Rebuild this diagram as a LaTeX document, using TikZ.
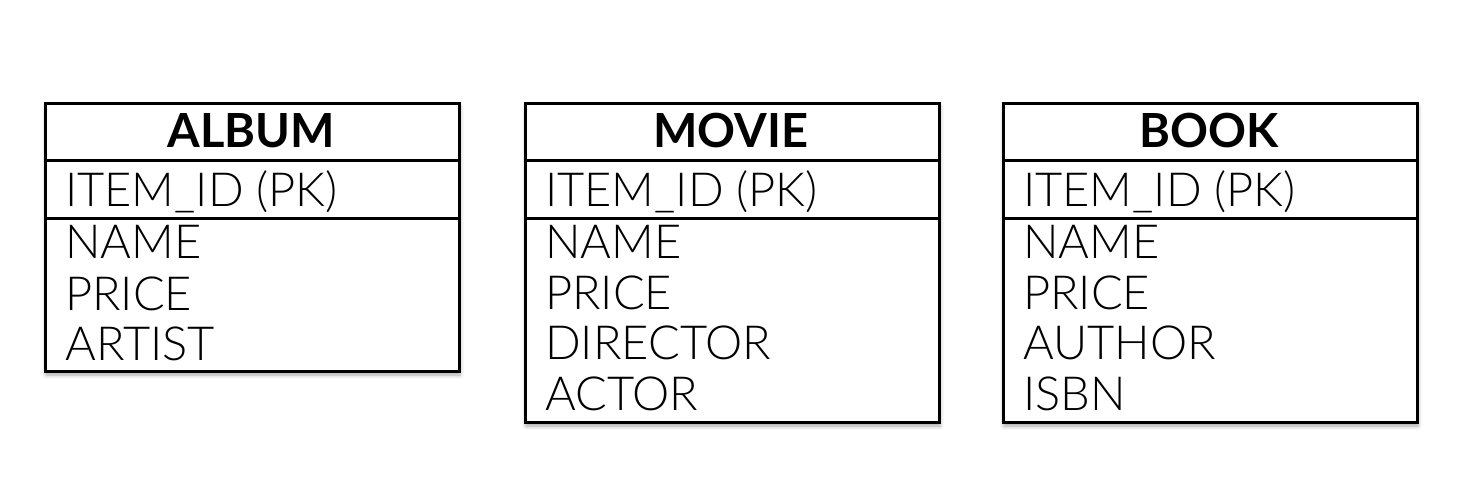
\documentclass[tikz,border=0pt]{standalone}
\usepackage{fontspec}
\setmainfont{Lato}[UprightFont=* Light, BoldFont=* Bold]
\usetikzlibrary{shadows.blur}
\begin{document}
\begin{tikzpicture}[x=1pt,y=-1pt,
  tbl/.style={draw, line width=3pt, fill=white, anchor=north west, inner sep=0pt, outer sep=0pt,
    minimum width=414pt, blur shadow={shadow xshift=1pt, shadow yshift=-4pt, shadow blur radius=4pt, shadow opacity=35}},
  divider/.style={line width=3pt},
  rowtxt/.style={anchor=base west, inner sep=0pt, font=\fontsize{47}{47}\selectfont},
  headtxt/.style={anchor=base, inner sep=0pt, font=\bfseries\fontsize{47}{47}\selectfont}]
\useasboundingbox (0,0) rectangle (1472,498);
% ALBUM
\node[tbl, minimum height=268pt] (album) at (45,103) {};
\draw[divider] (album.north west) ++(0,57) -- ++(413,0);
\draw[divider] (album.north west) ++(0,115) -- ++(413,0);
\node[headtxt] (albumh) at (251,147) {ALBUM};
\node[rowtxt] (album1) at (65,206) {ITEM\_ID (PK)};
\node[rowtxt] (album2) at (65,258) {NAME};
\node[rowtxt] (album3) at (65,310) {PRICE};
\node[rowtxt] (album4) at (65,360) {ARTIST};
% MOVIE
\node[tbl, minimum height=319pt] (movie) at (525,103) {};
\draw[divider] (movie.north west) ++(0,57) -- ++(413,0);
\draw[divider] (movie.north west) ++(0,115) -- ++(413,0);
\node[headtxt] (movieh) at (731,147) {MOVIE};
\node[rowtxt] (movie1) at (545,206) {ITEM\_ID (PK)};
\node[rowtxt] (movie2) at (545,258) {NAME};
\node[rowtxt] (movie3) at (545,309) {PRICE};
\node[rowtxt] (movie4) at (545,359) {DIRECTOR};
\node[rowtxt] (movie5) at (545,410) {ACTOR};
% BOOK
\node[tbl, minimum height=319pt] (book) at (1003,103) {};
\draw[divider] (book.north west) ++(0,57) -- ++(413,0);
\draw[divider] (book.north west) ++(0,115) -- ++(413,0);
\node[headtxt] (bookh) at (1209,147) {BOOK};
\node[rowtxt] (book1) at (1023,206) {ITEM\_ID (PK)};
\node[rowtxt] (book2) at (1023,258) {NAME};
\node[rowtxt] (book3) at (1023,309) {PRICE};
\node[rowtxt] (book4) at (1023,359) {AUTHOR};
\node[rowtxt] (book5) at (1023,410) {ISBN};
\end{tikzpicture}
\end{document}
